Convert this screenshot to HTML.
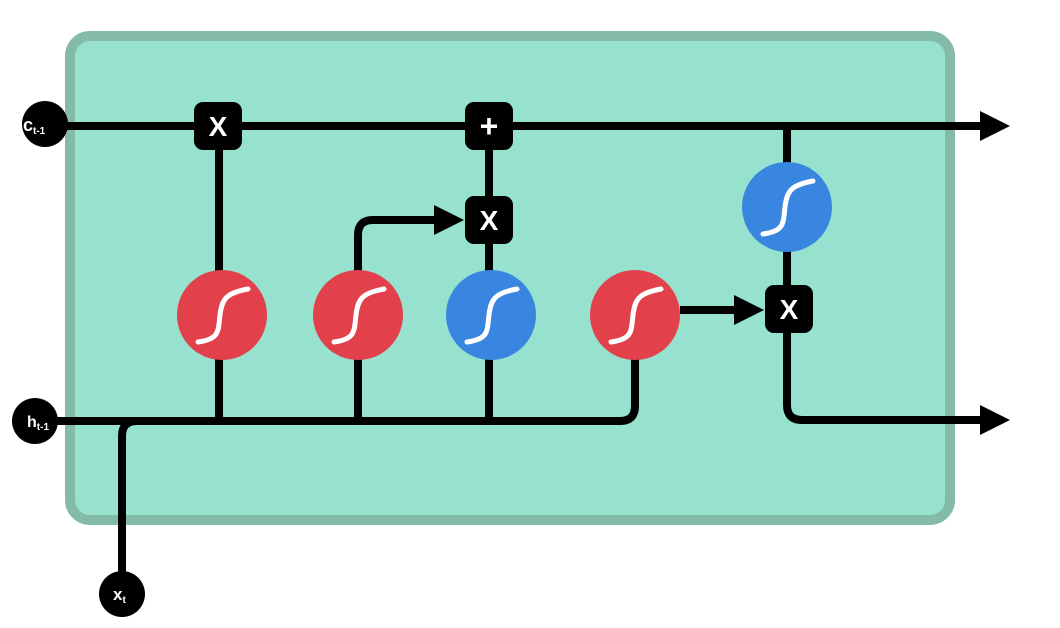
<!DOCTYPE html>
<html><head><meta charset="utf-8"><style>
html,body{margin:0;padding:0;background:#fff;width:1060px;height:628px;overflow:hidden}
</style></head><body>
<svg width="1060" height="628" viewBox="0 0 1060 628" xmlns="http://www.w3.org/2000/svg">
<defs>
<g id="sig"><path d="M-24,27 C-2,24 -4,16 -2,0 C0,-16 4,-22 26,-26" fill="none" stroke="#fff" stroke-width="5" stroke-linecap="round"/></g>
</defs>
<rect x="70" y="36" width="880" height="484" rx="20" fill="#97e1cf" stroke="#84bba8" stroke-width="10"/>
<g stroke="#000" stroke-width="8" fill="none" stroke-linejoin="round">
<!-- c line -->
<line x1="45" y1="126" x2="985" y2="126"/>
<!-- h line -->
<path d="M35,421 L620,421 Q635,421 635,406 L635,315"/>
<!-- x line -->
<path d="M122,594 L122,436 Q122,421 137,421"/>
<line x1="219" y1="126" x2="219" y2="421"/>
<path d="M358,421 L358,235 Q358,220 373,220 L440,220"/>
<line x1="489" y1="126" x2="489" y2="421"/>
<line x1="680" y1="310" x2="740" y2="310"/>
<path d="M787,126 L787,405 Q787,420 802,420 L985,420"/>
</g>
<g fill="#000">
<polygon points="1010,126 980,111 980,141"/>
<polygon points="1010,420 980,405 980,435"/>
<polygon points="464,220 434,205 434,235"/>
<polygon points="764,310 734,295 734,325"/>
<circle cx="45" cy="124" r="23"/>
<circle cx="35" cy="421" r="23"/>
<circle cx="122" cy="594" r="23"/>
<rect x="194" y="102" width="48" height="48" rx="9"/>
<rect x="465" y="102" width="48" height="48" rx="9"/>
<rect x="465" y="196" width="48" height="48" rx="9"/>
<rect x="765" y="285" width="48" height="48" rx="9"/>
</g>
<g font-family="Liberation Sans, sans-serif" font-weight="bold" fill="#fff" text-anchor="middle">
<text x="218" y="136" font-size="28">X</text>
<text x="489" y="137" font-size="32">+</text>
<text x="489" y="230" font-size="28">X</text>
<text x="789" y="319" font-size="28">X</text>
</g>
<g font-family="Liberation Sans, sans-serif" font-weight="bold" fill="#fff">
<text x="23" y="131" font-size="18">c<tspan font-size="10" dy="3">t-1</tspan></text>
<text x="27" y="427" font-size="16">h<tspan font-size="10" dy="3">t-1</tspan></text>
<text x="113" y="600" font-size="17">x<tspan font-size="10" dy="3">t</tspan></text>
</g>
<circle cx="222" cy="315" r="45" fill="#e2404b"/>
<use href="#sig" x="222" y="315"/>
<circle cx="358" cy="315" r="45" fill="#e2404b"/>
<use href="#sig" x="358" y="315"/>
<circle cx="491" cy="315" r="45" fill="#3886e0"/>
<use href="#sig" x="491" y="315"/>
<circle cx="635" cy="315" r="45" fill="#e2404b"/>
<use href="#sig" x="635" y="315"/>
<circle cx="787" cy="207" r="45" fill="#3886e0"/>
<use href="#sig" x="787" y="207"/>
</svg>
</body></html>
